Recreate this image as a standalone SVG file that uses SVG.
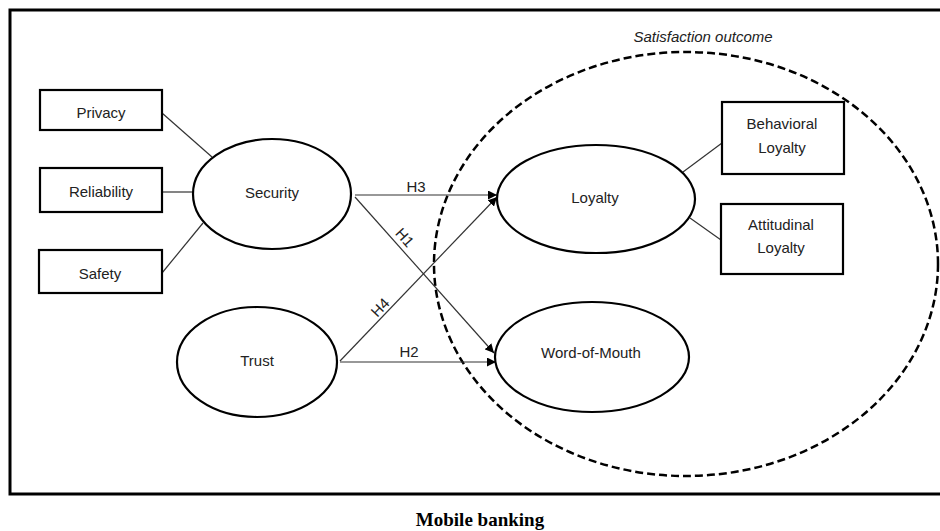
<svg xmlns="http://www.w3.org/2000/svg" width="940" height="531" viewBox="0 0 940 531">
<style>
.box{fill:#fff;stroke:#000;stroke-width:2.2}
.ell{fill:#fff;stroke:#000;stroke-width:2.2}
.lbl{font-family:"Liberation Sans",Arial,sans-serif;font-size:15px;fill:#222;text-anchor:middle}
.ln{stroke:#333;stroke-width:1.2;fill:none}
.arr{stroke:#333;stroke-width:1.2;fill:none;marker-end:url(#ah)}
</style>
<defs>
<marker id="ah" viewBox="0 0 10 10" refX="10" refY="5" markerWidth="9" markerHeight="9" markerUnits="userSpaceOnUse" orient="auto">
<path d="M0,0 L10,5 L0,10 z" fill="#000"/>
</marker>
</defs>
<rect x="0" y="0" width="940" height="531" fill="#fff"/>
<rect id="frame" x="10" y="10" width="940" height="484" fill="none" stroke="#000" stroke-width="3"/>
<g id="satisfaction-outcome">
<ellipse cx="686" cy="264" rx="252" ry="212" fill="none" stroke="#000" stroke-width="2.5" stroke-dasharray="8,4"/>
<text x="703" y="42" class="lbl" style="font-style:italic">Satisfaction outcome</text>
</g>
<g id="connectors">
<line class="ln" x1="162" y1="113" x2="212" y2="157"/>
<line class="ln" x1="162" y1="192" x2="193" y2="192"/>
<line class="ln" x1="162" y1="273" x2="203" y2="223"/>
<line class="ln" x1="683" y1="172" x2="722" y2="143"/>
<line class="ln" x1="690" y1="218" x2="721" y2="240"/>
<line class="arr" x1="355" y1="195" x2="497" y2="195"/>
<line class="arr" x1="355" y1="197" x2="494" y2="353"/>
<line class="arr" x1="340" y1="361" x2="497" y2="197"/>
<line class="arr" x1="340" y1="362" x2="496" y2="362"/>
<text x="416" y="192" class="lbl">H3</text>
<text class="lbl" transform="translate(401,241) rotate(48)">H1</text>
<text class="lbl" transform="translate(384,311) rotate(-46)">H4</text>
<text x="409" y="357" class="lbl">H2</text>
</g>
<g id="privacy"><rect class="box" x="40" y="90" width="122" height="40"/><text x="101" y="118" class="lbl">Privacy</text></g>
<g id="reliability"><rect class="box" x="40" y="168" width="122" height="44"/><text x="101" y="197" class="lbl">Reliability</text></g>
<g id="safety"><rect class="box" x="39" y="250" width="123" height="43"/><text x="100" y="279" class="lbl">Safety</text></g>
<g id="security"><ellipse class="ell" cx="272" cy="194" rx="79" ry="55"/><text x="272" y="198" class="lbl">Security</text></g>
<g id="trust"><ellipse class="ell" cx="257" cy="362" rx="80" ry="55"/><text x="257" y="366" class="lbl">Trust</text></g>
<g id="loyalty"><ellipse class="ell" cx="596" cy="199" rx="99" ry="54"/><text x="595" y="203" class="lbl">Loyalty</text></g>
<g id="word-of-mouth"><ellipse class="ell" cx="592" cy="357" rx="97" ry="55"/><text x="591" y="358" class="lbl">Word-of-Mouth</text></g>
<g id="behavioral-loyalty"><rect class="box" x="722" y="102" width="122" height="72"/><text x="782" y="129" class="lbl">Behavioral</text><text x="782" y="153" class="lbl">Loyalty</text></g>
<g id="attitudinal-loyalty"><rect class="box" x="721" y="204" width="122" height="70"/><text x="781" y="230" class="lbl">Attitudinal</text><text x="781" y="253" class="lbl">Loyalty</text></g>
<text x="480" y="526" style="font-family:'Liberation Serif','Times New Roman',serif;font-weight:bold;font-size:19px;text-anchor:middle">Mobile banking</text>
</svg>
